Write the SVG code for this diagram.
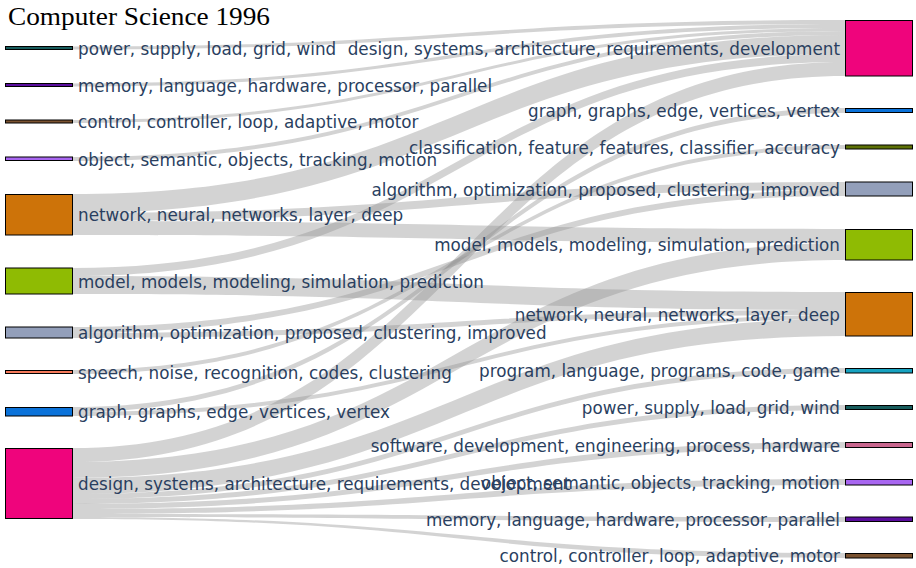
<svg xmlns="http://www.w3.org/2000/svg" width="916" height="568" viewBox="0 0 916 568">
<style>
.lk{fill:#939393;fill-opacity:0.41;stroke:none}
.nd{stroke:#000;stroke-width:1}
.lb{font-family:"DejaVu Sans",sans-serif;font-size:16.8px;fill:#2a3f5f}
.r{text-anchor:end}
.title{font-family:"Liberation Serif","Times New Roman",serif;font-size:25px;fill:#000}
</style>
<rect width="916" height="568" fill="#fff"/>
<g id="links">
<path class="lk" d="M72,46.5 C458.5,46.5 458.5,20 845,20 L845,24 C458.5,24 458.5,49.5 72,49.5 Z"/>
<path class="lk" d="M72,83.5 C458.5,83.5 458.5,24 845,24 L845,28 C458.5,28 458.5,86.5 72,86.5 Z"/>
<path class="lk" d="M72,120 C458.5,120 458.5,28 845,28 L845,31 C458.5,31 458.5,123 72,123 Z"/>
<path class="lk" d="M72,157 C458.5,157 458.5,31 845,31 L845,35 C458.5,35 458.5,161 72,161 Z"/>
<path class="lk" d="M72,194 C458.5,194 458.5,35 845,35 L845,54 C458.5,54 458.5,213 72,213 Z"/>
<path class="lk" d="M72,268 C458.5,268 458.5,54 845,54 L845,62 C458.5,62 458.5,276 72,276 Z"/>
<path class="lk" d="M72,448 C458.5,448 458.5,62 845,62 L845,76 C458.5,76 458.5,462 72,462 Z"/>
<path class="lk" d="M72,407 C458.5,407 458.5,108 845,108 L845,113 C458.5,113 458.5,412 72,412 Z"/>
<path class="lk" d="M72,370 C458.5,370 458.5,145 845,145 L845,149 C458.5,149 458.5,374 72,374 Z"/>
<path class="lk" d="M72,213 C458.5,213 458.5,182 845,182 L845,190 C458.5,190 458.5,221 72,221 Z"/>
<path class="lk" d="M72,327 C458.5,327 458.5,190 845,190 L845,196 C458.5,196 458.5,333 72,333 Z"/>
<path class="lk" d="M72,221 C458.5,221 458.5,229 845,229 L845,243 C458.5,243 458.5,235 72,235 Z"/>
<path class="lk" d="M72,462 C458.5,462 458.5,243 845,243 L845,260 C458.5,260 458.5,478 72,478 Z"/>
<path class="lk" d="M72,276 C458.5,276 458.5,292 845,292 L845,310 C458.5,310 458.5,294 72,294 Z"/>
<path class="lk" d="M72,333 C458.5,333 458.5,310 845,310 L845,315 C458.5,315 458.5,338 72,338 Z"/>
<path class="lk" d="M72,412 C458.5,412 458.5,315 845,315 L845,319 C458.5,319 458.5,416 72,416 Z"/>
<path class="lk" d="M72,478 C458.5,478 458.5,319 845,319 L845,336 C458.5,336 458.5,494 72,494 Z"/>
<path class="lk" d="M72,494 C458.5,494 458.5,368 845,368 L845,373 C458.5,373 458.5,499 72,499 Z"/>
<path class="lk" d="M72,499 C458.5,499 458.5,405 845,405 L845,410 C458.5,410 458.5,504 72,504 Z"/>
<path class="lk" d="M72,504 C458.5,504 458.5,442 845,442 L845,448 C458.5,448 458.5,509 72,509 Z"/>
<path class="lk" d="M72,509 C458.5,509 458.5,479 845,479 L845,485 C458.5,485 458.5,514 72,514 Z"/>
<path class="lk" d="M72,514 C458.5,514 458.5,517 845,517 L845,522 C458.5,522 458.5,517 72,517 Z"/>
<path class="lk" d="M72,517 C458.5,517 458.5,553 845,553 L845,558 C458.5,558 458.5,519 72,519 Z"/>
</g>
<text class="title" x="8" y="25" textLength="262" lengthAdjust="spacingAndGlyphs">Computer Science 1996</text>
<g id="L-power"><rect class="nd" x="5.5" y="46.5" width="67" height="3" fill="#175c5c"/><text class="lb" x="78" y="54.5">power, supply, load, grid, wind</text></g>
<g id="L-memory"><rect class="nd" x="5.5" y="83.5" width="67" height="3" fill="#5b0e9e"/><text class="lb" x="78" y="91.5">memory, language, hardware, processor, parallel</text></g>
<g id="L-control"><rect class="nd" x="5.5" y="120" width="67" height="3" fill="#7a5230"/><text class="lb" x="78" y="128">control, controller, loop, adaptive, motor</text></g>
<g id="L-object"><rect class="nd" x="5.5" y="157" width="67" height="3.5" fill="#a866f0"/><text class="lb" x="78" y="165.5">object, semantic, objects, tracking, motion</text></g>
<g id="L-network"><rect class="nd" x="5.5" y="194.5" width="67" height="40.5" fill="#cd7309"/><text class="lb" x="78" y="221">network, neural, networks, layer, deep</text></g>
<g id="L-model"><rect class="nd" x="5.5" y="268" width="67" height="26" fill="#8fbb03"/><text class="lb" x="78" y="287.5">model, models, modeling, simulation, prediction</text></g>
<g id="L-algorithm"><rect class="nd" x="5.5" y="327" width="67" height="11" fill="#939fba"/><text class="lb" x="78" y="339">algorithm, optimization, proposed, clustering, improved</text></g>
<g id="L-speech"><rect class="nd" x="5.5" y="370.5" width="67" height="3" fill="#f5795a"/><text class="lb" x="78" y="378.5">speech, noise, recognition, codes, clustering</text></g>
<g id="L-graph"><rect class="nd" x="5.5" y="407.5" width="67" height="8.5" fill="#0b72d9"/><text class="lb" x="78" y="418">graph, graphs, edge, vertices, vertex</text></g>
<g id="L-design"><rect class="nd" x="5.5" y="448.5" width="67" height="70" fill="#ef047c"/><text class="lb" x="78" y="490">design, systems, architecture, requirements, development</text></g>
<g id="R-design"><rect class="nd" x="845.5" y="20.5" width="67" height="55.5" fill="#ef047c"/><text class="lb r" x="840" y="54.5">design, systems, architecture, requirements, development</text></g>
<g id="R-graph"><rect class="nd" x="845.5" y="108.5" width="67" height="4" fill="#0b72d9"/><text class="lb r" x="840" y="117">graph, graphs, edge, vertices, vertex</text></g>
<g id="R-classification"><rect class="nd" x="845.5" y="145" width="67" height="4" fill="#5d7106"/><text class="lb r" x="840" y="153.5">classification, feature, features, classifier, accuracy</text></g>
<g id="R-algorithm"><rect class="nd" x="845.5" y="182" width="67" height="14" fill="#939fba"/><text class="lb r" x="840" y="195.5">algorithm, optimization, proposed, clustering, improved</text></g>
<g id="R-model"><rect class="nd" x="845.5" y="229.5" width="67" height="30.5" fill="#8fbb03"/><text class="lb r" x="840" y="251">model, models, modeling, simulation, prediction</text></g>
<g id="R-network"><rect class="nd" x="845.5" y="292.5" width="67" height="43.5" fill="#cd7309"/><text class="lb r" x="840" y="320.5">network, neural, networks, layer, deep</text></g>
<g id="R-program"><rect class="nd" x="845.5" y="368.5" width="67" height="4.5" fill="#17a2c0"/><text class="lb r" x="840" y="377">program, language, programs, code, game</text></g>
<g id="R-power"><rect class="nd" x="845.5" y="405.5" width="67" height="4" fill="#175c5c"/><text class="lb r" x="840" y="414">power, supply, load, grid, wind</text></g>
<g id="R-software"><rect class="nd" x="845.5" y="442.5" width="67" height="5" fill="#c8668e"/><text class="lb r" x="840" y="451.5">software, development, engineering, process, hardware</text></g>
<g id="R-object"><rect class="nd" x="845.5" y="479.5" width="67" height="5.5" fill="#a866f0"/><text class="lb r" x="840" y="488.5">object, semantic, objects, tracking, motion</text></g>
<g id="R-memory"><rect class="nd" x="845.5" y="517" width="67" height="4.5" fill="#5b0e9e"/><text class="lb r" x="840" y="526">memory, language, hardware, processor, parallel</text></g>
<g id="R-control"><rect class="nd" x="845.5" y="553.5" width="67" height="4.5" fill="#7a5230"/><text class="lb r" x="840" y="562">control, controller, loop, adaptive, motor</text></g>
</svg>
